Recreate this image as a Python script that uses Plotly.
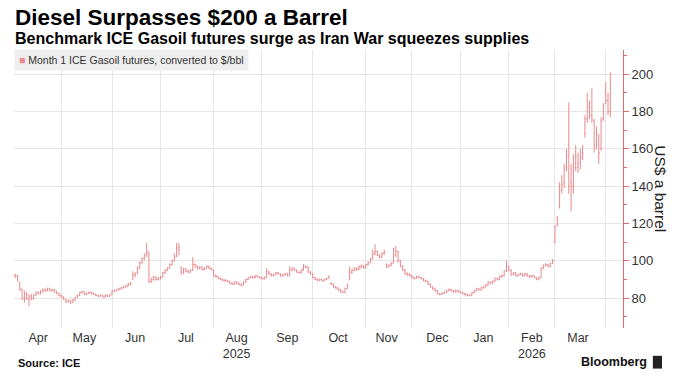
import pandas as pd
import plotly.graph_objects as go

# ---------------- data ----------------
holidays = ["2025-04-18", "2025-04-21", "2025-12-25", "2025-12-26", "2026-01-01"]
dates = [d for d in pd.bdate_range("2025-04-01", "2026-04-03") if d.strftime("%Y-%m-%d") not in holidays]

opens = [
    92.0, 92.0, 88.4, 84.6, 79.5, 82.2, 79.2, 81.0, 80.0, 82.0, 83.0, 82.4, 83.6, 84.4, 84.2, 85.0, 84.0, 84.6, 83.4, 82.6,  # Apr
    81.4, 80.6, 79.0, 78.0, 78.6, 77.8, 79.0, 80.6, 81.4, 83.0, 83.4, 82.0, 82.6, 83.0, 82.4, 82.0, 81.4, 81.0, 81.6, 80.6, 81.6, 81.0,  # May
    82.0, 83.8, 84.0, 84.6, 85.0, 85.6, 86.0, 86.6, 87.6, 90.0, 92.4, 93.4, 96.2, 99.0, 101.2, 104.0, 104.0, 89.0, 90.0, 91.2, 90.0,  # Jun
    90.6, 91.2, 93.6, 95.0, 96.0, 98.0, 100.0, 102.4, 106.0, 96.0, 94.0, 95.6, 94.4, 94.0, 95.0, 98.0, 97.0, 96.0, 96.6, 95.4, 96.0, 97.0, 96.0,  # Jul
    95.0, 92.0, 91.6, 90.6, 90.0, 89.6, 89.4, 89.0, 88.0, 87.4, 88.6, 88.0, 87.4, 87.0, 88.6, 90.0, 91.0, 91.6, 91.0, 92.0, 91.4,  # Aug
    91.0, 90.4, 91.0, 94.0, 93.0, 92.0, 92.6, 93.6, 93.0, 92.0, 92.6, 93.0, 92.0, 95.0, 96.0, 95.0, 94.0, 93.6, 95.0, 97.0, 96.6, 94.0,  # Sep
    93.0, 91.0, 90.0, 89.6, 90.0, 89.4, 90.0, 90.6, 88.0, 87.4, 86.0, 85.4, 84.4, 83.4, 83.0, 85.2, 90.0, 94.0, 95.0, 96.0, 95.4, 96.6, 97.4,  # Oct
    96.4, 98.0, 99.0, 101.0, 104.0, 105.0, 103.0, 102.0, 104.0, 98.0, 97.0, 97.6, 99.0, 103.0, 105.0, 100.0, 97.0, 95.0, 93.0, 92.6,  # Nov
    92.0, 91.0, 90.6, 91.6, 91.0, 90.4, 89.4, 89.0, 87.4, 86.0, 85.0, 84.0, 82.4, 82.0, 82.6, 83.0, 84.0, 84.6, 84.0, 83.4, 84.0,  # Dec
    83.4, 83.0, 82.4, 82.0, 81.4, 81.6, 83.0, 84.0, 85.0, 84.4, 85.6, 86.0, 87.0, 88.6, 88.0, 89.0, 90.6, 90.0, 91.6, 92.0, 94.6,  # Jan
    97.0, 95.0, 92.6, 93.6, 92.0, 92.6, 93.0, 92.0, 93.0, 92.0, 91.4, 92.0, 91.0, 90.0, 91.0, 96.0, 97.6, 98.0, 97.0, 98.6,  # Feb
    110.0, 119.0, 129.0, 138.0, 142.0, 150.0, 162.0, 142.0, 140.0, 152.0, 150.0, 153.0, 156.0, 168.0, 176.0, 183.0, 178.0, 175.0, 163.0, 166.0, 160.0, 176.0,  # Mar
    190.0, 186.0, 180.0,  # Apr
]
highs = [
    93.0, 92.6, 88.8, 85.2, 84.0, 83.4, 82.0, 82.2, 82.0, 83.6, 83.6, 84.2, 85.2, 85.2, 85.6, 85.6, 85.0, 85.0, 84.0, 83.0,
    82.0, 81.0, 79.6, 79.2, 79.0, 79.6, 80.6, 82.0, 83.4, 84.0, 83.6, 83.0, 83.6, 83.4, 83.0, 82.4, 81.8, 82.0, 81.8, 82.0, 81.8, 82.0,
    84.2, 84.6, 85.0, 85.6, 86.0, 86.6, 87.0, 88.2, 88.6, 94.4, 94.0, 97.0, 99.6, 102.0, 104.0, 109.5, 105.0, 91.0, 92.0, 91.6, 91.4,
    92.0, 94.0, 95.6, 96.6, 98.6, 100.6, 104.0, 109.5, 109.6, 97.0, 96.2, 96.0, 95.2, 95.6, 102.0, 98.6, 97.6, 97.2, 97.0, 96.6, 97.6, 97.4, 96.4,
    95.4, 92.6, 92.0, 91.2, 90.6, 90.2, 89.8, 89.4, 88.4, 89.0, 89.0, 88.4, 87.8, 89.0, 90.4, 91.4, 92.0, 92.0, 92.4, 92.4, 91.8,
    91.4, 91.6, 96.0, 94.6, 93.4, 93.0, 94.0, 94.0, 93.4, 93.0, 93.6, 93.4, 97.0, 96.6, 96.4, 95.4, 94.4, 95.6, 98.2, 97.6, 97.0, 94.4,
    93.4, 91.4, 90.6, 90.6, 90.4, 90.4, 91.0, 92.2, 88.6, 87.8, 86.6, 85.8, 85.0, 84.0, 85.6, 87.8, 97.0, 95.6, 96.6, 96.4, 97.6, 98.0, 97.8,
    98.6, 99.6, 101.6, 106.0, 109.0, 105.6, 103.6, 104.6, 106.0, 98.6, 98.2, 99.4, 107.0, 108.0, 105.4, 100.4, 97.6, 95.6, 93.8, 93.4,
    92.6, 91.4, 92.0, 92.0, 91.4, 90.8, 90.0, 89.4, 87.8, 86.4, 85.4, 84.4, 82.8, 83.0, 83.6, 84.6, 85.2, 85.0, 84.4, 84.6, 84.4,
    84.0, 83.4, 82.8, 82.4, 82.0, 83.4, 84.6, 85.6, 85.4, 86.0, 86.6, 87.6, 89.0, 89.0, 89.6, 91.0, 91.0, 92.0, 92.6, 95.0, 100.0,
    97.4, 95.4, 94.0, 94.0, 93.0, 93.6, 93.4, 93.6, 93.4, 92.4, 92.6, 92.4, 91.4, 91.6, 96.6, 98.0, 98.6, 98.4, 99.0, 101.0,
    119.0, 124.0, 142.0, 146.0, 152.0, 160.0, 185.0, 152.0, 157.0, 162.0, 158.0, 160.0, 162.0, 178.0, 190.0, 186.0, 192.5, 176.0, 172.0, 168.0, 177.0, 184.5,
    196.0, 190.0, 201.0,
]
lows = [
    90.8, 89.0, 84.0, 79.0, 77.5, 79.0, 75.6, 78.8, 79.2, 81.2, 81.8, 82.0, 83.0, 83.4, 83.6, 83.6, 83.4, 83.0, 82.0, 80.8,
    80.0, 79.0, 77.6, 77.6, 77.0, 77.4, 78.6, 80.2, 81.0, 82.6, 81.6, 81.6, 82.2, 82.0, 81.6, 81.0, 80.6, 80.8, 80.2, 80.4, 80.6, 80.8,
    81.8, 83.2, 83.6, 84.2, 84.6, 85.2, 85.6, 86.2, 86.8, 89.6, 91.0, 93.0, 95.6, 98.4, 100.2, 102.0, 88.0, 88.2, 89.4, 89.4, 89.6,
    90.0, 91.0, 93.0, 94.4, 95.6, 97.4, 99.6, 102.0, 103.0, 92.6, 93.0, 93.8, 93.2, 93.6, 94.6, 96.4, 95.2, 95.4, 95.0, 95.0, 95.6, 95.6, 94.8,
    91.6, 91.0, 90.2, 89.6, 89.0, 88.8, 88.4, 87.6, 87.0, 87.2, 87.6, 86.8, 86.2, 86.8, 88.2, 89.6, 90.6, 90.4, 90.6, 91.0, 90.4,
    90.0, 90.0, 90.8, 92.6, 91.6, 91.6, 92.2, 92.6, 91.6, 91.6, 92.2, 91.6, 91.8, 94.4, 94.6, 93.6, 93.0, 93.2, 94.6, 96.0, 93.6, 92.6,
    90.6, 89.6, 89.0, 89.2, 89.0, 89.0, 89.6, 90.2, 87.0, 85.6, 85.0, 84.0, 83.0, 82.6, 82.8, 85.0, 89.6, 93.0, 94.4, 94.6, 95.0, 96.0, 95.8,
    96.0, 97.4, 98.6, 100.6, 103.0, 102.4, 101.4, 101.6, 103.0, 96.0, 96.4, 97.2, 98.6, 102.0, 99.0, 96.6, 94.6, 92.6, 92.0, 91.6,
    90.6, 90.0, 90.4, 90.6, 90.0, 89.0, 88.6, 87.0, 85.6, 84.6, 83.6, 82.0, 81.6, 81.8, 82.2, 82.8, 83.6, 83.6, 83.0, 83.0, 83.0,
    82.6, 82.0, 81.4, 81.0, 81.0, 81.4, 82.6, 83.6, 84.0, 84.0, 85.0, 85.6, 86.6, 87.4, 87.6, 88.6, 89.4, 89.6, 91.0, 91.6, 94.0,
    94.6, 92.0, 92.2, 91.6, 91.6, 92.2, 91.6, 91.6, 91.6, 91.0, 91.0, 90.6, 89.6, 89.6, 90.8, 95.6, 97.0, 96.6, 96.6, 98.2,
    109.5, 118.6, 128.0, 136.0, 139.0, 148.0, 136.0, 126.5, 136.0, 148.0, 147.0, 149.0, 154.0, 166.0, 174.0, 176.0, 174.0, 158.0, 160.0, 152.0, 159.0, 175.0,
    184.0, 178.0, 177.0,
]
closes = [
    92.2, 89.6, 85.0, 80.0, 82.0, 79.8, 81.2, 79.8, 81.6, 83.0, 82.4, 83.6, 84.6, 84.0, 85.0, 84.0, 84.6, 83.4, 82.6, 81.4,
    80.6, 79.4, 78.0, 78.6, 77.6, 79.0, 80.2, 81.4, 83.0, 83.4, 82.0, 82.6, 83.0, 82.4, 82.0, 81.4, 81.0, 81.6, 80.6, 81.6, 81.0, 81.6,
    83.8, 84.0, 84.6, 85.0, 85.6, 86.0, 86.6, 87.6, 88.0, 92.4, 93.0, 96.2, 99.0, 101.2, 103.0, 105.0, 89.0, 90.0, 91.2, 90.0, 90.6,
    91.2, 93.6, 95.0, 96.0, 98.0, 100.0, 102.4, 107.0, 107.4, 94.0, 95.6, 94.4, 94.0, 95.0, 98.0, 97.0, 96.0, 96.6, 95.4, 96.0, 97.0, 96.0, 95.4,
    92.0, 91.6, 90.6, 90.0, 89.6, 89.4, 89.0, 88.0, 87.4, 88.6, 88.0, 87.4, 87.0, 88.6, 90.0, 91.0, 91.6, 91.0, 92.0, 91.4, 91.0,
    90.4, 91.0, 94.0, 93.0, 92.0, 92.6, 93.6, 93.0, 92.0, 92.6, 93.0, 92.0, 95.0, 96.0, 95.0, 94.0, 93.6, 95.0, 97.0, 96.6, 94.0, 93.0,
    91.0, 90.0, 89.6, 90.0, 89.4, 90.0, 90.6, 91.6, 87.4, 86.0, 85.4, 84.4, 83.4, 83.0, 85.2, 87.0, 94.0, 95.0, 96.0, 95.4, 96.6, 97.4, 96.4,
    98.0, 99.0, 101.0, 104.0, 105.0, 103.0, 102.0, 104.0, 104.6, 97.0, 97.6, 98.6, 103.0, 105.0, 100.0, 97.0, 95.0, 93.0, 92.6, 92.0,
    91.0, 90.6, 91.6, 91.0, 90.4, 89.4, 89.0, 87.4, 86.0, 85.0, 84.0, 82.4, 82.0, 82.6, 83.0, 84.0, 84.6, 84.0, 83.4, 84.0, 83.4,
    83.0, 82.4, 82.0, 81.4, 81.6, 83.0, 84.0, 85.0, 84.4, 85.6, 86.0, 87.0, 88.6, 88.0, 89.0, 90.6, 90.0, 91.6, 92.0, 94.6, 97.0,
    95.0, 92.6, 93.6, 92.0, 92.6, 93.0, 92.0, 93.0, 92.0, 91.4, 92.0, 91.0, 90.0, 91.0, 96.0, 97.6, 98.0, 97.0, 98.6, 100.0,
    118.0, 122.0, 138.0, 141.0, 149.0, 156.0, 140.0, 138.0, 150.0, 156.0, 152.0, 155.0, 158.0, 176.0, 182.0, 178.0, 176.0, 162.0, 168.0, 158.0, 175.0, 183.0,
    186.0, 180.0, 200.0,
]

for arr in (opens, highs, lows, closes):
    assert len(arr) == len(dates), (len(arr), len(dates))

month_starts = ["2025-05-01", "2025-06-02", "2025-07-01", "2025-08-01", "2025-09-01", "2025-10-01",
                "2025-11-03", "2025-12-01", "2026-01-02", "2026-02-02", "2026-03-02", "2026-04-01"]
label_dates = ["2025-04-15", "2025-05-15", "2025-06-16", "2025-07-16", "2025-08-15", "2025-09-16",
               "2025-10-16", "2025-11-14", "2025-12-16", "2026-01-16", "2026-02-16", "2026-03-16"]
label_text = ["Apr", "May", "Jun", "Jul", "Aug<br>2025", "Sep", "Oct", "Nov", "Dec", "Jan", "Feb<br>2026", "Mar"]
y_ticks = [80, 100, 120, 140, 160, 180, 200]

# ---------------- figure ----------------
RED = "#e9898c"
AXRED = "#e06a6e"
FONT = "Liberation Sans, Arial, sans-serif"

fig = go.Figure()
fig.add_trace(go.Ohlc(
    x=dates, open=opens, high=highs, low=lows, close=closes,
    increasing=dict(line=dict(color=RED, width=1)),
    decreasing=dict(line=dict(color=RED, width=1)),
    tickwidth=0.4, showlegend=False, hoverinfo="skip",
))

fig.update_layout(
    width=679, height=384,
    margin=dict(l=14, r=56, t=50, b=56, autoexpand=False),
    paper_bgcolor="white", plot_bgcolor="white",
    font=dict(family=FONT, color="#333333"),
    xaxis=dict(
        type="date", automargin=False,
        range=["2025-03-31 12:00", "2026-04-10 12:00"],
        rangebreaks=[dict(bounds=["sat", "mon"]), dict(values=holidays)],
        rangeslider=dict(visible=False),
        tickmode="array", tickvals=label_dates, ticktext=label_text,
        ticks="", showgrid=False, showline=False, zeroline=False,
        tickfont=dict(size=12.5, color="#333333"),
        minor=dict(tickmode="array", tickvals=month_starts, showgrid=True,
                   gridcolor="#e6e6e6", gridwidth=1, ticks=""),
    ),
    yaxis=dict(
        side="right", range=[64, 213], automargin=False,
        tickmode="array", tickvals=y_ticks,
        showgrid=True, gridcolor="#e6e6e6", gridwidth=1, zeroline=False,
        showline=True, linecolor=AXRED, linewidth=1,
        ticks="outside", ticklen=5, tickcolor=AXRED,
        tickfont=dict(size=13, color="#333333"),
        minor=dict(dtick=10, tick0=0, ticks="outside", ticklen=3, tickcolor=AXRED, showgrid=False),
    ),
)

annotations = [
    dict(text="<b>Diesel Surpasses $200 a Barrel</b>", x=-0.002, y=1.117, xanchor="left", yanchor="middle",
         font=dict(size=22.5, color="#000000")),
    dict(text="<b>Benchmark ICE Gasoil futures surge as Iran War squeezes supplies</b>", x=-0.002, y=1.043,
         xanchor="left", yanchor="middle", font=dict(size=16, color="#000000")),
    dict(text="<span style='color:%s'>■</span> Month 1 ICE Gasoil futures, converted to $/bbl" % RED,
         x=0.0, y=0.965, xanchor="left", yanchor="middle", bgcolor="#eeeeee", borderpad=4,
         font=dict(size=10.5, color="#333333")),
    dict(text="US$ a barrel", x=1.062, y=0.5, xanchor="center", yanchor="middle", textangle=90,
         font=dict(size=15.5, color="#222222")),
    dict(text="<b>Source: ICE</b>", x=0.004, y=-0.126, xanchor="left", yanchor="middle",
         font=dict(size=11, color="#111111")),
    dict(text="<b>Bloomberg</b>", x=1.043, y=-0.122, xanchor="right", yanchor="middle",
         font=dict(size=12.5, color="#111111")),
]
for a in annotations:
    a.update(xref="paper", yref="paper", showarrow=False)
fig.update_layout(annotations=annotations)

fig.add_shape(type="rect", xref="paper", yref="paper", x0=1.049, x1=1.064, y0=-0.146, y1=-0.1,
              fillcolor="#222222", line=dict(width=0))

fig.write_html("out.html", config={"responsive": False, "displayModeBar": False},
               post_script="document.body.style.margin='0';")
